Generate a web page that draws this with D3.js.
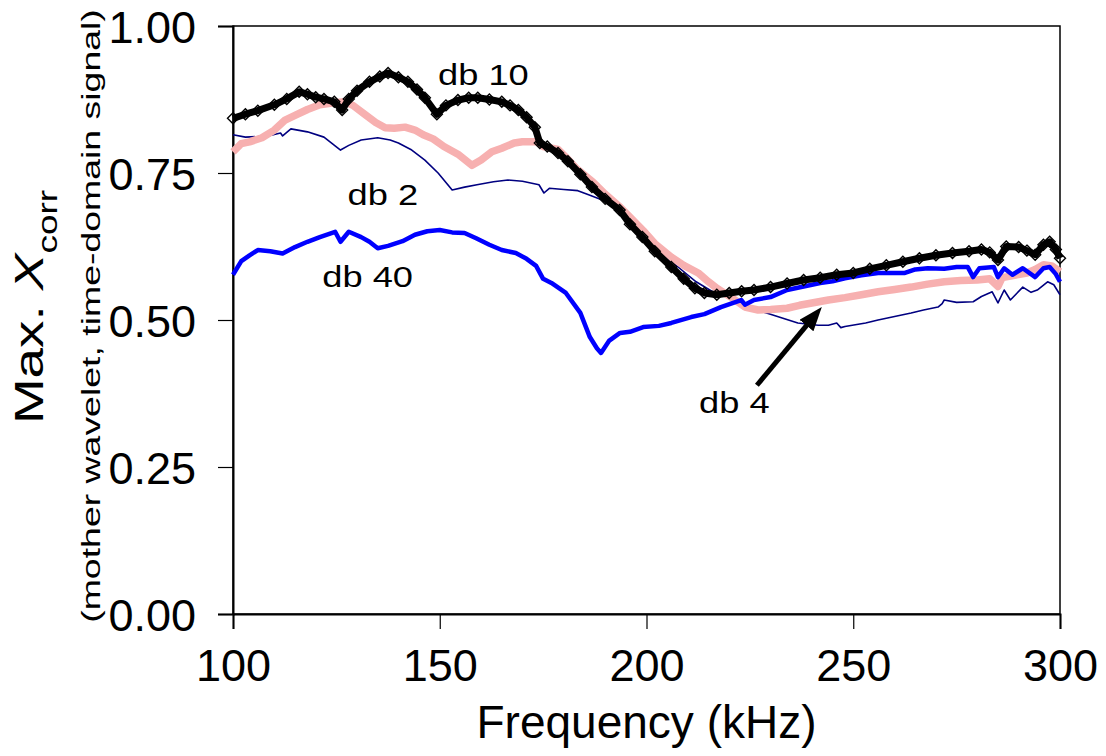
<!DOCTYPE html>
<html>
<head>
<meta charset="utf-8">
<script src="https://cdn.jsdelivr.net/npm/d3@7"></script>
<style>
  body{margin:0;background:#fff;}
  text{font-family:Arial,"Liberation Sans",sans-serif;fill:#000;}
</style>
</head>
<body>
<svg id="chart"></svg>
<script>
// values: frequency (kHz) and Max. Xcorr
const db10Freq = [100,103,106,110,113,116,118,120,122,124.5,126.4,128,130,133,135.5,137.5,140,142.3,144.5,146.4,149.3,151.5,154.4,157,159.2,162,165,167,169,171,173,174.2,176,178.6,181,184,186.8,190,193.5,196,199,202,206,209,211.7,214,217,220,223,226,230,234,238,242,246,250,254,258,262,266,270,274,278,281,283,285,287,290,292,294,296,297.5,299,300];
const db10Val  = [0.843,0.850,0.856,0.866,0.876,0.888,0.884,0.879,0.876,0.871,0.857,0.876,0.890,0.905,0.914,0.920,0.913,0.905,0.892,0.878,0.850,0.865,0.874,0.878,0.878,0.875,0.871,0.865,0.857,0.845,0.828,0.801,0.795,0.784,0.770,0.748,0.726,0.706,0.687,0.663,0.641,0.617,0.590,0.570,0.554,0.546,0.543,0.546,0.549,0.551,0.556,0.562,0.568,0.572,0.577,0.580,0.587,0.593,0.599,0.605,0.610,0.614,0.617,0.620,0.615,0.602,0.625,0.624,0.618,0.611,0.628,0.633,0.620,0.605];

const db4Freq = [100,102,104,107,110,112.6,115,118,121,124,127,129,132,134.5,136.8,139,141.6,144,146,148.4,151,154.4,157.8,160,162.6,165,168,170,173.5,175,178.6,180.5,183,187,190,193.6,196,199.2,202,206,209,212.5,215,217,220.4,223.8,227,230,234,237,240,244,248,252,256,260,264,268,272,276,280,283,285,286,289,292,294,296,298,300];
const db4Val  = [0.786,0.800,0.803,0.810,0.823,0.840,0.848,0.858,0.866,0.869,0.871,0.865,0.849,0.836,0.827,0.826,0.828,0.823,0.815,0.808,0.795,0.782,0.763,0.772,0.786,0.792,0.801,0.803,0.803,0.795,0.790,0.777,0.758,0.735,0.714,0.692,0.675,0.652,0.630,0.607,0.593,0.580,0.565,0.554,0.539,0.522,0.517,0.518,0.520,0.525,0.529,0.534,0.538,0.543,0.548,0.552,0.556,0.561,0.565,0.567,0.568,0.570,0.557,0.572,0.576,0.580,0.586,0.594,0.592,0.582];

const db2Freq = [100,103,106,109,111.5,112,114,118,122,124,126,128,131,135,138,140,143,146.4,149.6,151.5,153,156,159,163,166.5,170,174,175.2,176.5,180,183.4,186,189,192,196,200,204,208,212,216,220,224,227.5,229.4,233,236.6,241.5,244,246,247,248,253,256,260,264,267,270.5,271.5,272,275,279,281,283.6,285,286.5,288,291,293,294.5,297,298.5,300];
const db2Val  = [0.815,0.811,0.812,0.814,0.818,0.813,0.825,0.820,0.811,0.800,0.789,0.797,0.806,0.810,0.806,0.801,0.790,0.772,0.750,0.734,0.721,0.726,0.730,0.735,0.738,0.736,0.730,0.716,0.724,0.722,0.720,0.713,0.705,0.693,0.670,0.642,0.612,0.588,0.565,0.548,0.538,0.526,0.515,0.511,0.503,0.495,0.491,0.491,0.495,0.487,0.489,0.495,0.500,0.506,0.512,0.517,0.522,0.528,0.534,0.530,0.531,0.540,0.548,0.529,0.551,0.534,0.556,0.547,0.551,0.565,0.560,0.543];

const db40Freq = [100,102,104,106,109,112,115,118,121,124.7,126,128,131,133,135,137.5,141,144,147,150,153,156,158.8,162,165,168.4,171,173.3,175,177,180.5,184,186.3,188,189,191,193.6,196,199.2,203,206,210.8,214,218,222.9,223.8,226,230,234,238,242,245,248,252,256,259,262.5,265,268,272,275,277.7,279,280.5,284,285,286.5,288.5,291,294,296,297.5,299,300];
const db40Val  = [0.577,0.600,0.610,0.619,0.617,0.613,0.624,0.633,0.641,0.650,0.633,0.650,0.641,0.633,0.622,0.626,0.634,0.645,0.651,0.653,0.649,0.648,0.639,0.628,0.619,0.614,0.604,0.592,0.570,0.563,0.546,0.512,0.471,0.452,0.444,0.465,0.478,0.480,0.488,0.490,0.495,0.505,0.510,0.522,0.534,0.526,0.534,0.539,0.551,0.557,0.563,0.566,0.571,0.576,0.580,0.580,0.580,0.586,0.588,0.587,0.590,0.590,0.573,0.588,0.590,0.573,0.588,0.577,0.588,0.573,0.588,0.590,0.578,0.565];

const xTicks = [100,150,200,250,300];
const yTicks = [0,0.25,0.5,0.75,1];

// name, anchor (freq, value) for the label text
const labelNames = ["db 10","db 2","db 40","db 4"];
const labelFreq  = [149.6,127.7,121.6,212.7];
const labelVal   = [0.899,0.695,0.556,0.342];
const arrowFrom = [226.7,0.389], arrowTo = [242.4,0.522];

let width = 1106, height = 756;
const m = {left:233, right:46, top:26, bottom:142};

const svg = d3.select('#chart').attr('width',width).attr('height',height);
svg.append('rect').attr('width',width).attr('height',height).attr('fill','#fff');

const x = d3.scaleLinear().domain([100,300]).range([m.left,width-m.right]);
const y = d3.scaleLinear().domain([0,1]).range([height-m.bottom,m.top]);

// frame
svg.append('rect')
  .attr('x',x(100)).attr('y',y(1))
  .attr('width',x(300)-x(100)).attr('height',y(0)-y(1))
  .attr('fill','none').attr('stroke','#000').attr('stroke-width',1.5);

// axes
const gx = svg.append('g').attr('transform',`translate(0,${y(0)})`)
  .call(d3.axisBottom(x).tickValues(xTicks).tickSize(15).tickPadding(38).tickFormat(d3.format('d')));
const gy = svg.append('g').attr('transform',`translate(${x(100)},0)`)
  .call(d3.axisLeft(y).tickValues(yTicks).tickSize(15).tickPadding(22).tickFormat(d3.format('.2f')));
[gx,gy].forEach(g=>{
  g.select('.domain').attr('stroke','#000').attr('stroke-width',2);
  g.selectAll('.tick line').attr('stroke','#000').attr('stroke-width',1.2);
  g.selectAll('.tick text').style('font-size','45px').style('font-family','Arial,"Liberation Sans",sans-serif').attr('fill','#000');
});
gx.selectAll('.tick text').attr('dy','0.32em');
gy.selectAll('.tick text').attr('dy','0.37em');

const line = (fs,vs)=>d3.line().x((d,i)=>x(fs[i])).y((d,i)=>y(vs[i]))(fs);

// series, back to front
svg.append('path').attr('d',line(db2Freq,db2Val)).attr('fill','none')
  .attr('stroke','#000080').attr('stroke-width',1.6).attr('stroke-linejoin','round');
svg.append('path').attr('d',line(db4Freq,db4Val)).attr('fill','none')
  .attr('stroke','#f7b0b0').attr('stroke-width',7.5).attr('stroke-linejoin','round');
svg.append('path').attr('d',line(db40Freq,db40Val)).attr('fill','none')
  .attr('stroke','#0000ff').attr('stroke-width',4.5).attr('stroke-linejoin','round');
svg.append('path').attr('d',line(db10Freq,db10Val)).attr('fill','none')
  .attr('stroke','#000').attr('stroke-width',7).attr('stroke-linejoin','round');
svg.selectAll('.dia').data(db10Freq).join('path').classed('dia',true)
  .attr('transform',(d,i)=>`translate(${x(d)},${y(db10Val[i])})`)
  .attr('d','M0,-5.5L5.5,0L0,5.5L-5.5,0Z')
  .attr('fill','none').attr('stroke','#000').attr('stroke-width',1.4);

// labels
svg.selectAll('.lbl').data(labelNames).join('text').classed('lbl',true)
  .attr('transform',(d,i)=>`translate(${x(labelFreq[i])},${y(labelVal[i])}) scale(1.25,1)`)
  .style('font-size','29px')
  .text(d=>d);

// arrow
svg.append('defs').append('marker')
  .attr('id','head').attr('markerUnits','userSpaceOnUse')
  .attr('markerWidth',24).attr('markerHeight',18)
  .attr('refX',24).attr('refY',9).attr('orient','auto')
  .append('path').attr('d','M0,0L24,9L0,18Z').attr('fill','#000');
{
  const x0=x(arrowFrom[0]), y0=y(arrowFrom[1]), x1=x(arrowTo[0]), y1=y(arrowTo[1]);
  const len=Math.hypot(x1-x0,y1-y0), k=(len-14)/len;
  svg.append('line').attr('x1',x0).attr('y1',y0)
    .attr('x2',x0+(x1-x0)*k).attr('y2',y0+(y1-y0)*k)
    .attr('stroke','#000').attr('stroke-width',5);
  // head drawn as marker on a hairline helper
  svg.append('line').attr('x1',x0).attr('y1',y0).attr('x2',x1).attr('y2',y1)
    .attr('stroke','#000').attr('stroke-width',0.01).attr('marker-end','url(#head)');
}

// axis titles
svg.append('text')
  .attr('x',(x(100)+x(300))/2).attr('y',738)
  .attr('text-anchor','middle').style('font-size','46px')
  .text('Frequency (kHz)');

const yt = svg.append('text')
  .attr('transform','translate(43,307) rotate(-90) scale(1.37,1)')
  .attr('text-anchor','middle').style('font-size','40px');
yt.append('tspan').text('Max. ');
yt.append('tspan').style('font-style','italic').text('X');
yt.append('tspan').attr('dy',14).style('font-size','27px').text('corr');

svg.append('text')
  .attr('transform','translate(100,316) rotate(-90) scale(1.44,1)')
  .attr('text-anchor','middle').style('font-size','26px')
  .text('(mother wavelet, time-domain signal)');
</script>
</body>
</html>
